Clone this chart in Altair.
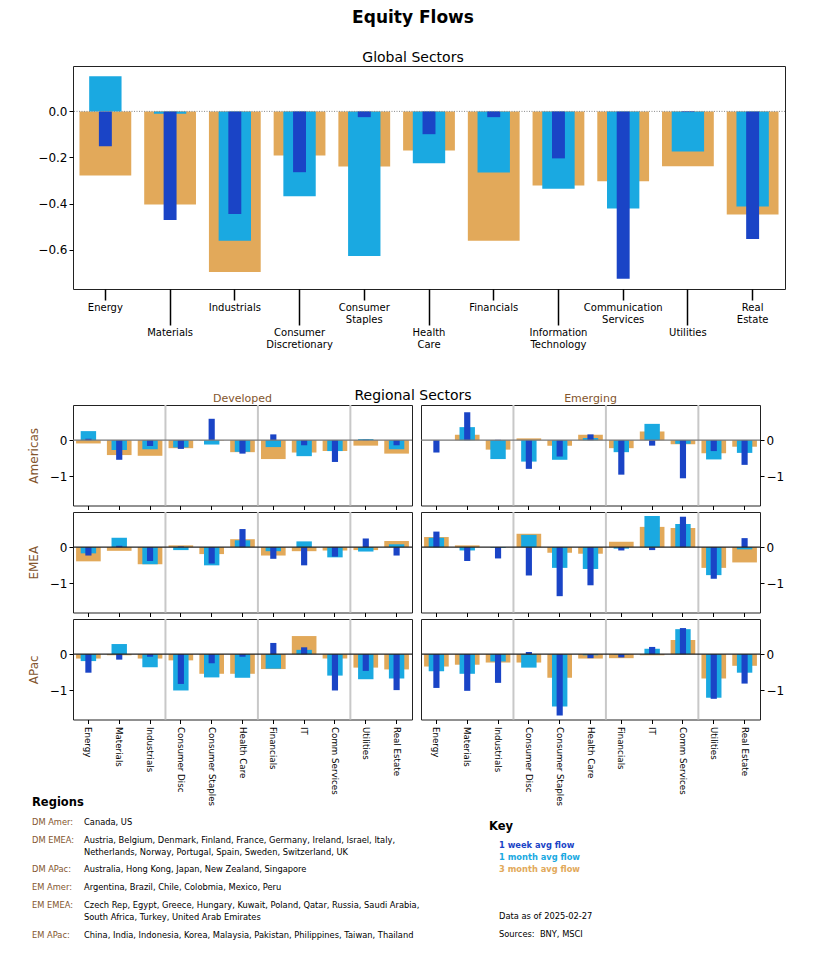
import json
import altair as alt
import pandas as pd

SECTORS = ["Energy", "Materials", "Industrials", "Consumer Discretionary", "Consumer Staples",
           "Health Care", "Financials", "Information Technology", "Communication Services",
           "Utilities", "Real Estate"]
SHORT = ["Energy", "Materials", "Industrials", "Consumer Disc", "Consumer Staples", "Health Care",
         "Financials", "IT", "Comm Services", "Utilities", "Real Estate"]

# Global sectors
G_1W = [-0.151, -0.472, -0.445, -0.264, -0.025, -0.099, -0.025, -0.204, -0.726, -0.003, -0.554]
G_1M = [0.152, -0.010, -0.562, -0.368, -0.628, -0.225, -0.265, -0.336, -0.422, -0.174, -0.413]
G_3M = [-0.278, -0.404, -0.697, -0.191, -0.239, -0.170, -0.562, -0.322, -0.303, -0.238, -0.448]

# Regional sectors
DM_AMER_1W = [0.04, -0.54, -0.16, -0.24, 0.59, -0.37, 0.16, -0.14, -0.60, 0.01, -0.14]
DM_AMER_1M = [0.25, -0.27, -0.25, -0.20, -0.12, -0.32, -0.19, -0.44, -0.30, 0.03, -0.25]
DM_AMER_3M = [-0.09, -0.41, -0.43, -0.22, -0.01, -0.33, -0.52, -0.34, -0.30, -0.15, -0.37]

EM_AMER_1W = [-0.34, 0.77, 0.01, -0.79, -0.45, 0.16, -0.95, -0.15, -1.05, -0.30, -0.68]
EM_AMER_1M = [0.00, 0.36, -0.52, -0.59, -0.54, 0.06, -0.33, 0.45, -0.10, -0.53, -0.35]
EM_AMER_3M = [0.00, 0.15, -0.26, 0.05, -0.15, 0.15, -0.22, 0.24, -0.11, -0.36, -0.18]

DM_EMEA_1W = [-0.23, 0.04, -0.38, 0.02, -0.45, 0.50, -0.32, -0.50, -0.26, 0.24, -0.23]
DM_EMEA_1M = [-0.17, 0.26, -0.47, -0.08, -0.50, 0.19, -0.11, 0.16, -0.28, -0.12, 0.08]
DM_EMEA_3M = [-0.39, -0.10, -0.47, 0.05, -0.19, 0.22, -0.23, -0.11, -0.09, -0.08, 0.17]

EM_EMEA_1W = [0.43, -0.38, -0.31, -0.78, -1.35, -1.05, -0.09, -0.08, 0.84, -0.87, 0.25]
EM_EMEA_1M = [0.26, -0.09, -0.02, 0.34, -0.57, -0.60, -0.04, 0.86, 0.64, -0.77, -0.06]
EM_EMEA_3M = [0.28, 0.05, 0.00, 0.37, -0.15, -0.18, 0.15, 0.56, 0.53, -0.57, -0.42]

DM_APAC_1W = [-0.51, -0.15, -0.07, -0.82, -0.25, -0.07, 0.31, 0.19, -1.00, -0.46, -0.99]
DM_APAC_1M = [-0.19, 0.28, -0.36, -1.00, -0.64, -0.65, -0.40, 0.12, -0.59, -0.69, -0.67]
DM_APAC_3M = [-0.12, -0.03, -0.12, -0.17, -0.54, -0.54, -0.41, 0.50, -0.12, -0.37, -0.42]

EM_APAC_1W = [-0.93, -1.01, -0.79, 0.06, -1.69, -0.11, -0.09, 0.20, 0.72, -1.23, -0.81]
EM_APAC_1M = [-0.47, -0.54, -0.20, -0.37, -1.44, -0.03, -0.01, 0.15, 0.69, -1.20, -0.51]
EM_APAC_3M = [-0.34, -0.29, -0.23, -0.23, -0.65, -0.12, -0.11, -0.03, 0.39, -0.67, -0.32]

ROW_NAMES = ["Americas", "EMEA", "APac"]
COL_NAMES = ["Developed", "Emerging"]

REGION_LABELS = ["DM Amer:", "DM EMEA:", "DM APac:", "EM Amer:", "EM EMEA:", "EM APac:"]
REGION_COUNTRIES = [
    ["Canada, US"],
    ["Austria, Belgium, Denmark, Finland, France, Germany, Ireland, Israel, Italy,",
     "Netherlands, Norway, Portugal, Spain, Sweden, Switzerland, UK"],
    ["Australia, Hong Kong, Japan, New Zealand, Singapore"],
    ["Argentina, Brazil, Chile, Colobmia, Mexico, Peru"],
    ["Czech Rep, Egypt, Greece, Hungary, Kuwait, Poland, Qatar, Russia, Saudi Arabia,",
     "South Africa, Turkey, United Arab Emirates"],
    ["China, India, Indonesia, Korea, Malaysia, Pakistan, Philippines, Taiwan, Thailand"],
]
KEY_LABELS = ["1 week avg flow", "1 month avg flow", "3 month avg flow"]
NOTES = ["Data as of 2025-02-27", "Sources:\u00a0\u00a0BNY, MSCI"]

C1W = "#1A44C6"
C1M = "#1AA9E1"
C3M = "#E2A95A"
BROWN = "#83552D"
FONT = "DejaVu Sans"

# ---------------- layout constants ----------------
GW, GH = 712, 223
PW, PH = 339, 100.5
G_YDOM = [-0.771, 0.197]
R_YDOM = [-1.8, 0.97]


def bar_layers(df, domain, ydomain, xaxis, yaxis, ytitle):
    xs = alt.Scale(domain=domain, paddingInner=0, paddingOuter=0)
    ys = alt.Scale(domain=ydomain, nice=False)
    xenc = alt.X("sector:N", scale=xs, axis=xaxis, title=None)
    layers = []
    for col, frac, color in [("m3", 0.8, C3M), ("m1", 0.5, C1M), ("w1", 0.2, C1W)]:
        layers.append(
            alt.Chart(df).mark_bar(width=alt.RelativeBandSize(frac), color=color).encode(
                x=xenc,
                y=alt.Y(f"{col}:Q", scale=ys, axis=yaxis, title=ytitle),
            )
        )
    return xs, ys, xenc, layers


def text_layer(txt, px, py, size, color, weight="normal"):
    return alt.Chart(pd.DataFrame({"t": [txt]})).mark_text(
        align="left", baseline="middle", fontSize=size, fontWeight=weight, color=color
    ).encode(x=alt.value(px), y=alt.value(py), text="t:N")


# ---------------- Global chart ----------------
gdf = pd.DataFrame({"sector": SECTORS, "w1": G_1W, "m1": G_1M, "m3": G_3M})
odd = SECTORS[1::2]
expr = ""
for i, s in enumerate(SECTORS):
    lines = s.split(" ")
    expr += f"datum.value == {json.dumps(s)} ? {json.dumps(lines)} : "
expr += "datum.label"
odd_test = f"indexof({json.dumps(odd)}, datum.value) >= 0"

gx_axis = alt.Axis(labelExpr=expr, labelAngle=0, labelFontSize=10, labelLineHeight=12.5,
                   labelBaseline="top", labelAlign="center", labelPadding=2,
                   tickSize={"condition": {"test": odd_test, "value": 36}, "value": 11},
                   tickWidth=1.5, tickColor="black", labelOverlap=False, domain=False)
gy_axis = alt.Axis(values=[0, -0.2, -0.4, -0.6], format=".1f", tickSize=4, labelFontSize=12,
                   labelPadding=2, domain=False, grid=False)
gxs, gys, gxenc, glayers = bar_layers(gdf, SECTORS, G_YDOM, gx_axis, gy_axis, None)
gzero = alt.Chart(pd.DataFrame({"m3": [0]})).mark_rule(
    color="#888888", strokeWidth=1, strokeDash=[1, 1.5]).encode(
    y=alt.Y("m3:Q", scale=gys, axis=gy_axis, title=None))
global_chart = alt.layer(*glayers, gzero).properties(
    width=GW, height=GH,
    title=alt.TitleParams("Global Sectors", fontSize=14, fontWeight="normal", anchor="middle",
                          frame="group", offset=1, dx=-16))

# ---------------- Regional panels ----------------
REG = {
    ("Americas", "Developed"): (DM_AMER_1W, DM_AMER_1M, DM_AMER_3M),
    ("Americas", "Emerging"): (EM_AMER_1W, EM_AMER_1M, EM_AMER_3M),
    ("EMEA", "Developed"): (DM_EMEA_1W, DM_EMEA_1M, DM_EMEA_3M),
    ("EMEA", "Emerging"): (EM_EMEA_1W, EM_EMEA_1M, EM_EMEA_3M),
    ("APac", "Developed"): (DM_APAC_1W, DM_APAC_1M, DM_APAC_3M),
    ("APac", "Emerging"): (EM_APAC_1W, EM_APAC_1M, EM_APAC_3M),
}

# text block (placed relative to the bottom-left panel, whose top-left is page (73, 619))
PX0, PY0 = 73, 619
text_layers = [text_layer("Regions", 32 - PX0, 803 - PY0, 11.5, "black", "bold"),
               text_layer("Key", 489 - PX0, 827 - PY0, 11.5, "black", "bold")]
yy = 823.0
for lab, lines in zip(REGION_LABELS, REGION_COUNTRIES):
    text_layers.append(text_layer(lab, 32 - PX0, yy - PY0, 8.3, BROWN))
    for j, ln in enumerate(lines):
        text_layers.append(text_layer(ln, 84 - PX0, yy + 12 * j - PY0, 8.3, "black"))
    yy += 12 * (len(lines) - 1) + 17.7
for j, (lab, colr) in enumerate(zip(KEY_LABELS, [C1W, C1M, C3M])):
    text_layers.append(text_layer(lab, 499 - PX0, 846 + 12 * j - PY0, 8.3, colr, "bold"))
for j, note in enumerate(NOTES):
    text_layers.append(text_layer(note, 499 - PX0, 917 + 18 * j - PY0, 8.3, "black"))

panels = []
for r, row in enumerate(ROW_NAMES):
    for c, col in enumerate(COL_NAMES):
        w1, m1, m3 = REG[(row, col)]
        df = pd.DataFrame({"sector": SHORT, "w1": w1, "m1": m1, "m3": m3})
        if r == len(ROW_NAMES) - 1:
            xaxis = alt.Axis(labelAngle=90, labelAlign="left", labelBaseline="middle", labelFontSize=8.7,
                             tickSize=4, labelPadding=3, labelOverlap=False, domain=False, tickColor="black")
        else:
            xaxis = alt.Axis(labels=False, tickSize=4, domain=False, tickColor="black")
        yaxis = alt.Axis(values=[0, -1], format="d", tickSize=4, labelFontSize=12, labelPadding=2,
                         domain=False, grid=False, orient="left" if c == 0 else "right",
                         titleColor=BROWN, titleFontSize=12, titleFontWeight="normal", titlePadding=9)
        ytitle = row if c == 0 else None
        xs, ys, xenc, layers = bar_layers(df, SHORT, R_YDOM, xaxis, yaxis, ytitle)
        sep = alt.Chart(pd.DataFrame({"sector": [SHORT[3], SHORT[6], SHORT[9]]})).mark_rule(
            color="#c8c8c8", strokeWidth=2).encode(
            x=alt.X("sector:N", bandPosition=0, scale=xs, axis=xaxis, title=None))
        zero = alt.Chart(pd.DataFrame({"m3": [0]})).mark_rule(
            color="#777777" if r == 0 else "#222222", strokeWidth=1.2).encode(
            y=alt.Y("m3:Q", scale=ys, axis=yaxis, title=ytitle))
        props = dict(width=PW, height=PH)
        if r == 0:
            props["title"] = alt.TitleParams(col, fontSize=11, fontWeight="normal", color=BROWN,
                                             anchor="middle", offset=3, dy=3)
        extra = text_layers if (r == len(ROW_NAMES) - 1 and c == 0) else []
        panels.append(alt.layer(sep, *layers, zero, *extra).properties(**props))

regional = alt.concat(*panels, columns=2, spacing={"row": 6, "column": 9}, bounds="flush",
                      title=alt.TitleParams("Regional Sectors", fontSize=14, fontWeight="normal",
                                            anchor="middle", frame="group", offset=4, dx=340, dy=14))

chart = alt.vconcat(global_chart, regional, spacing=116, bounds="flush",
                    title=alt.TitleParams("Equity Flows", fontSize=17, fontWeight="bold", anchor="middle",
                                          frame="group", offset=24, dx=340)).properties(
    padding={"left": 18, "top": 0, "right": 5, "bottom": 5}
).configure(font=FONT).configure_view(stroke="#222222", strokeWidth=1).configure_axis(
    grid=False, labelColor="black", tickColor="black", labelFont=FONT, titleFont=FONT
).configure_title(font=FONT, color="black")

chart.save("out.html", embed_options={"renderer": "svg", "actions": False})
